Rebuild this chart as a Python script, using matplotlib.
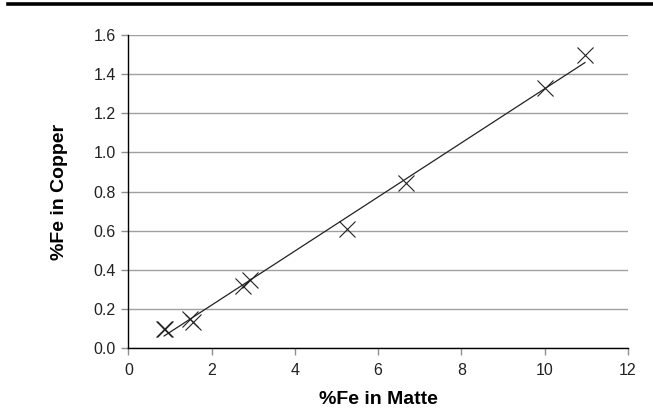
import numpy as np
import matplotlib
matplotlib.use("Agg")
import matplotlib.pyplot as plt
from matplotlib.lines import Line2D

fe_matte = [0.86, 0.89, 1.48, 1.55, 2.75, 2.93, 5.26, 6.66, 10.01, 10.97]
fe_copper = [0.10, 0.097, 0.15, 0.135, 0.317, 0.348, 0.608, 0.842, 1.328, 1.50]

x_ticks = [0, 2, 4, 6, 8, 10, 12]
y_ticks = [0.0, 0.2, 0.4, 0.6, 0.8, 1.0, 1.2, 1.4, 1.6]

plt.rcParams["font.family"] = ["Liberation Sans", "DejaVu Sans"]

fig = plt.figure(figsize=(6.53, 4.12), dpi=100)
ax = fig.add_axes([0.1965, 0.155, 0.765, 0.76])

# linear trend line over the data range
slope, intercept = np.polyfit(fe_matte, fe_copper, 1)
xs = np.array([min(fe_matte), max(fe_matte)])
ax.plot(xs, slope * xs + intercept, color="#222222", linewidth=0.9, zorder=3)

ax.plot(fe_matte, fe_copper, linestyle="none", marker="x", markersize=11,
        markeredgewidth=0.8, color="#222222", zorder=4)

ax.set_xlim(0, 12)
ax.set_ylim(0, 1.6)
ax.set_xticks(x_ticks)
ax.set_yticks(y_ticks)
ax.set_yticklabels([f"{v:.1f}" for v in y_ticks])
ax.yaxis.grid(True, color="#a0a0a0", linewidth=1.0)
ax.set_axisbelow(True)

for side in ("top", "right"):
    ax.spines[side].set_visible(False)
for side in ("left", "bottom"):
    ax.spines[side].set_color("black")
    ax.spines[side].set_linewidth(1.0)

ax.tick_params(axis="both", direction="out", length=5, width=1.0, color="#909090",
               labelsize=11.5, labelcolor="#222222")
ax.tick_params(axis="y", pad=4)
ax.tick_params(axis="x", pad=6)

ax.set_xlabel("%Fe in Matte", fontsize=14, fontweight="bold", labelpad=9)
ax.set_ylabel("%Fe in Copper", fontsize=14, fontweight="bold", labelpad=18)

# rule across the top of the figure
fig.add_artist(Line2D([0.012, 1.0], [0.9915, 0.9915], transform=fig.transFigure,
                      color="black", linewidth=2.6))

fig.savefig("out.png", dpi=100)
